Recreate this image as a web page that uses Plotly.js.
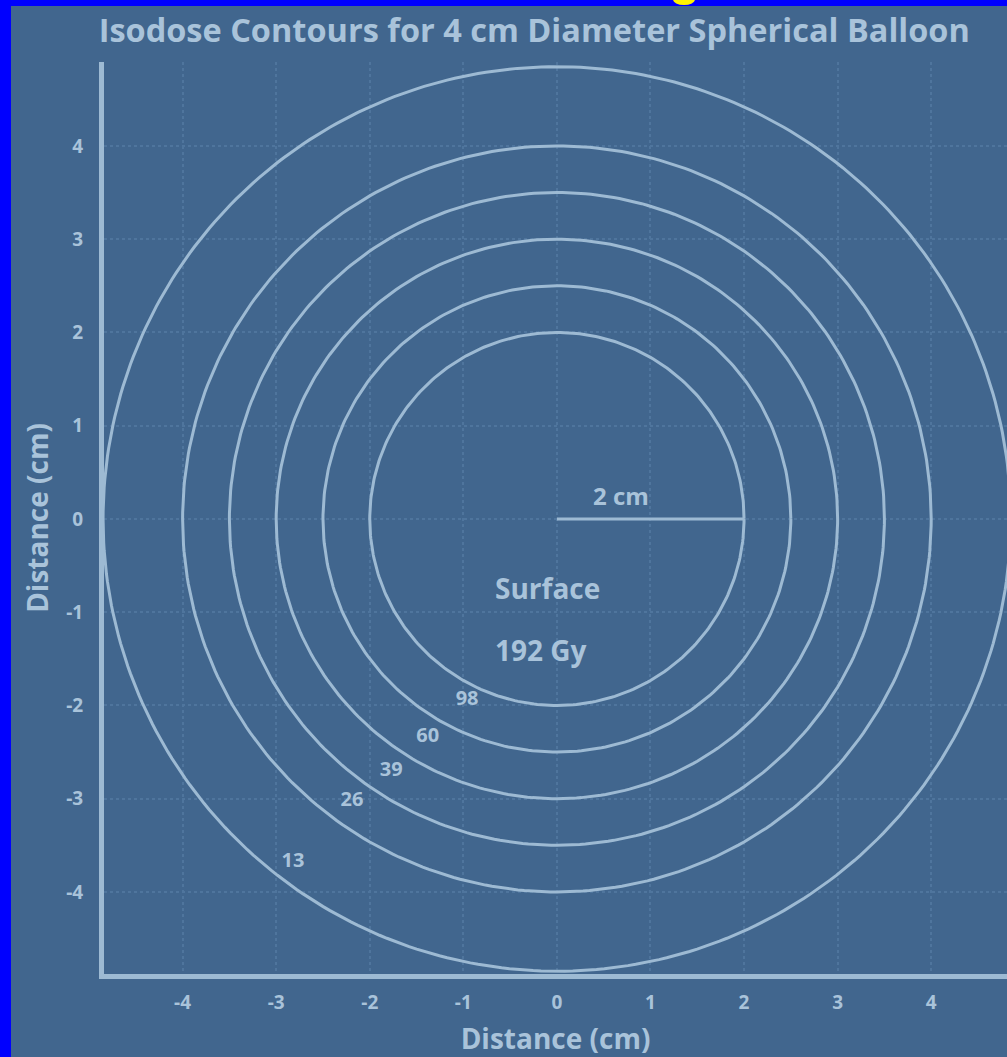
<!DOCTYPE html>
<html>
<head>
<meta charset="utf-8">
<script src="https://cdn.plot.ly/plotly-3.0.1.min.js"></script>
<style>
  html, body { margin:0; padding:0; background:#0000FF; width:1007px; height:1057px; overflow:hidden; position:relative; }
  #blob { position:absolute; left:673px; top:-6px; width:22px; height:11px; border-radius:50%; background:#FFF200; }
  #chart { position:absolute; left:11px; top:6px; width:996px; height:1051px; }
</style>
</head>
<body>
<div id="blob"></div>
<div id="chart"></div>
<script>
// Isodose contour radii (cm)
const radii = [2, 2.5, 3, 3.5, 4, 4.85];
// Contour labels and their positions (cm)
const doseLabels = ['98', '60', '39', '26', '13'];
const labelX = [-0.96, -1.38, -1.77, -2.19, -2.82];
const labelY = [-1.94, -2.34, -2.70, -3.03, -3.68];
// Tick values and labels
const tickVals = [-4, -3, -2, -1, 0, 1, 2, 3, 4];
const tickText = ['-4', '-3', '-2', '-1', '0', '1', '2', '3', '4'];
// Radius marker
const markerRadius = 2;

const lineColor = '#9DBAD3';
const textColor = '#A9C3DA';
const bg = '#41668E';
const fontFam = '"Open Sans", sans-serif';

const traces = [];
// contours as parametric circles from radii
radii.forEach(r => {
  const xs = [], ys = [];
  for (let i = 0; i <= 360; i++) {
    const t = i * Math.PI / 180;
    xs.push(r * Math.cos(t));
    ys.push(r * Math.sin(t));
  }
  traces.push({ x: xs, y: ys, type: 'scatter', mode: 'lines',
    line: { color: lineColor, width: 3 }, hoverinfo: 'skip', showlegend: false, cliponaxis: true });
});
// 2 cm radius line
traces.push({ x: [0, markerRadius], y: [0, 0], type: 'scatter', mode: 'lines',
  line: { color: lineColor, width: 3 }, showlegend: false, hoverinfo: 'skip' });
// dose labels
traces.push({ x: labelX, y: labelY, text: doseLabels, type: 'scatter', mode: 'text',
  textfont: { family: fontFam, size: 20, color: textColor, weight: 'bold' }, showlegend: false, hoverinfo: 'skip' });

const layout = {
  width: 996, height: 1051,
  paper_bgcolor: bg, plot_bgcolor: bg,
  margin: { l: 93, r: 0, t: 56, b: 83 },
  showlegend: false,
  title: { text: 'Isodose Contours for 4 cm Diameter Spherical Balloon',
    font: { family: fontFam, size: 32.5, color: textColor, weight: 'bold' },
    x: 0.088, xanchor: 'left', y: 0.977, yanchor: 'middle' },
  xaxis: {
    range: [-4.84, 4.81], tickvals: tickVals, ticktext: tickText,
    showline: true, linecolor: lineColor, linewidth: 5,
    showgrid: true, gridcolor: '#4F759D', gridwidth: 2, griddash: 'dot',
    zeroline: false, ticks: '', ticklabelstandoff: 7,
    tickfont: { family: fontFam, size: 19, color: textColor, weight: 'bold' },
    title: { text: 'Distance (cm)', standoff: 19,
      font: { family: fontFam, size: 28, color: textColor, weight: 'bold' } },
    fixedrange: true
  },
  yaxis: {
    range: [-4.88, 4.9], tickvals: tickVals, ticktext: tickText,
    showline: true, linecolor: lineColor, linewidth: 5,
    showgrid: true, gridcolor: '#4F759D', gridwidth: 2, griddash: 'dot',
    zeroline: false, ticks: '', ticklabelstandoff: 12,
    tickfont: { family: fontFam, size: 19, color: textColor, weight: 'bold' },
    title: { text: 'Distance (cm)', standoff: 11,
      font: { family: fontFam, size: 28, color: textColor, weight: 'bold' } },
    fixedrange: true
  },
  annotations: [
    { x: 0.69, y: 0.25, text: '2 cm', showarrow: false, xref: 'x', yref: 'y',
      font: { family: fontFam, size: 24, color: textColor, weight: 'bold' } },
    { x: -0.10, y: -0.74, text: 'Surface', showarrow: false, xref: 'x', yref: 'y',
      font: { family: fontFam, size: 28, color: textColor, weight: 'bold' } },
    { x: -0.17, y: -1.41, text: '192 Gy', showarrow: false, xref: 'x', yref: 'y',
      font: { family: fontFam, size: 28, color: textColor, weight: 'bold' } }
  ]
};

Plotly.newPlot('chart', traces, layout, { displayModeBar: false, staticPlot: true });
</script>
</body>
</html>
